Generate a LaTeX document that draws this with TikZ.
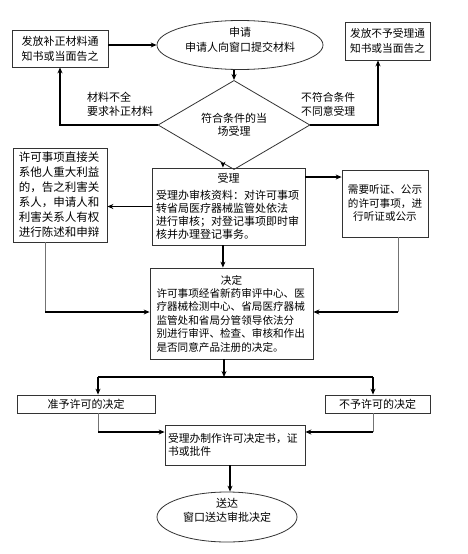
\documentclass[tikz,border=0pt]{standalone}
\usepackage{fontspec}
\setmainfont{Noto Sans CJK SC}
\usetikzlibrary{shapes.geometric,arrows.meta,calc}
\begin{document}
\begin{tikzpicture}[x=1pt,y=-1pt,
  box/.style={draw=black!80, line width=0.8pt, rectangle, inner sep=0pt},
  shp/.style={draw=black!80, line width=0.8pt, inner sep=0pt},
  arr/.style={draw=black, line width=1.3pt, -{Stealth[length=6pt,width=5pt]}},
  thk/.style={draw=black, line width=1.3pt},
  ln/.style={draw=black!55, line width=0.9pt},
  txt/.style={inner sep=0pt},
  f11/.style={font=\fontsize{11}{15}\selectfont},
]
\useasboundingbox[fill=white] (0,0) rectangle (468,554);

% top row
\node[box, f11, align=left, minimum width=96pt, minimum height=37pt] (A) at (60,48.5) {发放补正材料通\\知书或当面告之};
\node[shp, ellipse, minimum width=166pt, minimum height=49pt] (top) at (240,45) {};
\node[txt, align=center, font=\fontsize{11}{15}\selectfont] (toptxt) at (240,39.5) {申请\\申请人向窗口提交材料};
\node[box, align=left, font=\fontsize{10.7}{15}\selectfont, minimum width=85pt, minimum height=38pt] (C) at (387.5,41) {发放不予受理通\\知书或当面告之};

% diamond
\node[shp, diamond, minimum width=152pt, minimum height=64pt, align=center, font=\fontsize{11}{13}\selectfont] (dia) at (234,125) {符合条件的当\\场受理};
\node[txt, anchor=west, align=left, font=\fontsize{11}{14}\selectfont] (lbl1) at (87,104) {材料不全\\要求补正材料};
\node[txt, anchor=west, align=left, font=\fontsize{10.8}{14}\selectfont] (lbl2) at (301,104) {不符合条件\\不同意受理};

% second row
\node[box, align=left, text width=145pt, font=\fontsize{11}{13}\selectfont, minimum width=153pt, minimum height=77pt] (B) at (228.5,206.5)
  {\makebox[\hsize]{受理}\\[4pt]受理办审核资料：对许可事项\\转省局医疗器械监管处依法\\进行审核；对登记事项即时审\\核并办理登记事务。};
\node[box, align=left, text width=82pt, font=\fontsize{11.5}{15}\selectfont, minimum width=94pt, minimum height=94pt] (D) at (60,195)
  {许可事项直接关\\系他人重大利益\\的，告之利害关\\系人，申请人和\\利害关系人有权\\进行陈述和申辩};
\node[box, align=center, text width=78pt, font=\fontsize{10.6}{13.5}\selectfont, minimum width=86pt, minimum height=67pt] (E) at (385,203.5)
  {需要听证、公示\\的许可事项，进\\行听证或公示};

% decision
\node[box, align=left, text width=150pt, font=\fontsize{10.6}{13.4}\selectfont, minimum width=163pt, minimum height=91pt] (F) at (231.5,313.5)
  {\makebox[\hsize]{决定}\\许可事项经省新药审评中心、医\\疗器械检测中心、省局医疗器械\\监管处和省局分管领导依法分\\别进行审评、检查、审核和作出\\是否同意产品注册的决定。};

\node[box, f11, minimum width=138pt, minimum height=18pt] (G) at (86,404) {准予许可的决定};
\node[box, f11, minimum width=105pt, minimum height=18pt] (H) at (377.5,404) {不予许可的决定};

\node[box, align=left, text width=134pt, font=\fontsize{10.8}{13}\selectfont, minimum width=140pt, minimum height=40pt] (I) at (235,445)
  {受理办制作许可决定书，证\\书或批件};

\node[shp, ellipse, minimum width=140pt, minimum height=50pt] (J) at (227,517) {};
\node[txt, align=center, font=\fontsize{11}{14}\selectfont] (Jtxt) at (227,510) {送达\\窗口送达审批决定};

% connectors
\draw[arr] (A.east |- top.west) -- (top.west);
\draw[arr] (dia.north |- top.south) -- (dia.north);
\draw[arr] (dia.west) -| (A.south);
\coordinate (cR) at (378,0);
\draw[arr] (dia.east) -| (cR |- C.south);

\coordinate (p) at ($(dia.south)!0.145!(dia.west)$);
\draw[arr] (p) -- (p |- B.north);
\draw[arr] (B.west) -- (B.west -| D.east);
\coordinate (cE) at (0,177);
\draw[arr] (B.east |- cE) -- (E.west |- cE);

\coordinate (cM) at (p |- B.south);
\draw[arr] (cM) -- (cM |- F.north);

\coordinate (cD) at (45,312);
\draw[ln] (cD |- D.south) -- (cD);
\draw[arr] (cD) -- (cD -| F.west);
\coordinate (cE2) at (398,312);
\draw[ln] (cE2 |- E.south) -- (cE2);
\draw[arr] (cE2) -- (cE2 -| F.east);

\coordinate (cF) at (224,377);
\draw[arr] (cF |- F.south) -- (cF);
\coordinate (cG) at (98,377);
\coordinate (cH) at (373,377);
\draw[thk] (cG) -- (cH);
\draw[arr] (cG) -- (cG |- G.north);
\draw[arr] (cH) -- (cH |- H.north);

\coordinate (cI) at (0,432);
\draw[ln] (cG |- G.south) -- (cG |- cI);
\draw[arr] (cG |- cI) -- (I.west |- cI);
\draw[ln] (cH |- H.south) -- (cH |- cI);
\draw[arr] (cH |- cI) -- (I.east |- cI);

\coordinate (cJ) at (230,0);
\draw[arr] (cJ |- I.south) -- (cJ |- J.north);
\end{tikzpicture}
\end{document}
